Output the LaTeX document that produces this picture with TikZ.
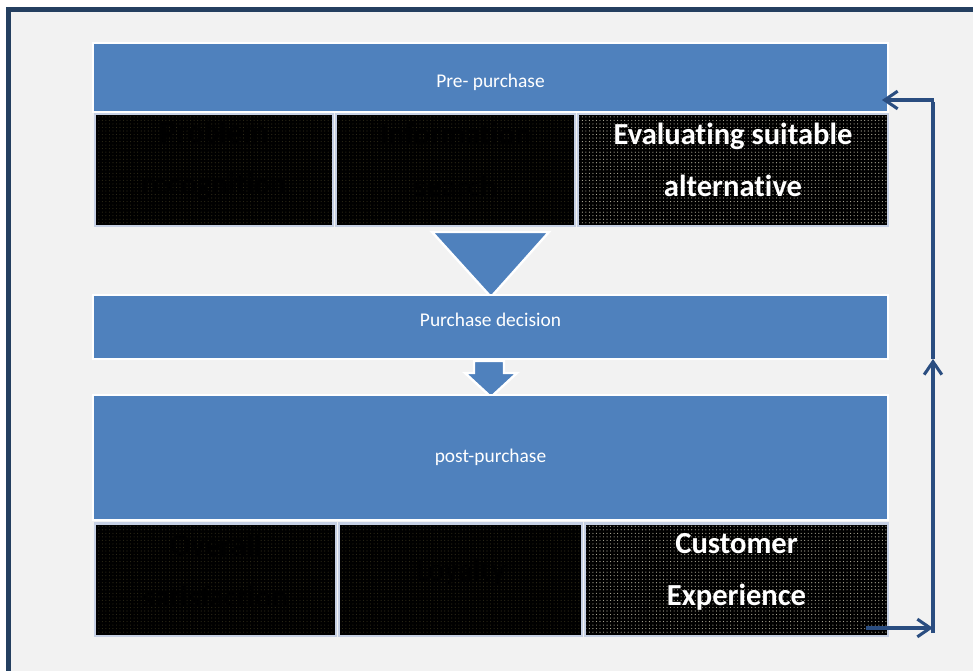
\documentclass[tikz,border=0pt]{standalone}
\usepackage{fontspec}
\setmainfont{Carlito}[Ligatures=NoCommon]
\usetikzlibrary{arrows.meta,patterns}
\definecolor{framenavy}{HTML}{243F60}
\definecolor{stageblue}{HTML}{4F81BD}
\definecolor{loopblue}{HTML}{2A4D80}
\definecolor{pagegray}{HTML}{F2F2F2}
\definecolor{rimgray}{HTML}{C6D0E4}
\definecolor{darkspeck}{HTML}{2E2A18}
\definecolor{lightspeck}{HTML}{B8B4A0}
\tikzset{
  stage/.style={draw=white, line width=2.2pt, fill=stageblue, text=white, minimum width=675.75pt, font=\fontsize{16.5}{20}\selectfont},
  hidden/.style={draw=rimgray, line width=2pt, preaction={fill=black}, pattern=dots, pattern color=darkspeck, minimum height=95.5pt},
  shown/.style={hidden, pattern color=lightspeck},
  hiddentext/.style={text=black, align=center, font=\bfseries\fontsize{26}{44}\selectfont},
  showntext/.style={hiddentext, text=white},
  blockarrow/.style={fill=stageblue, draw=white, line width=2pt, line join=miter},
  loop/.style={draw=loopblue, line width=2.6pt}
}
\begin{document}
\begin{tikzpicture}[x=0.85pt, y=-0.85pt, >={Straight Barb[length=11pt, width=15pt]}]
		\useasboundingbox[fill=white] (0,0) rectangle (973,671);
		\draw[framenavy, line width=4.3pt, fill=pagegray] (8.5,9.5) rectangle (990,690);

		\node[stage, minimum height=58.65pt, text height=20pt, text depth=3.5pt] (pre) at (490.5,77.5) {Pre- purchase};
		\node[hidden, minimum width=202.3pt] (problem) at (214,170) {};
		\node[hidden, minimum width=203.15pt] (info) at (455.5,170) {};
		\node[shown, minimum width=263.5pt] (evaluate) at (733,170) {};
		\node[hiddentext] at (214,160) {Problem\\recognition};
		\node[hiddentext] at (455.5,160) {Information\\search};
		\node[showntext] at (733,160) {Evaluating suitable\\alternative};

		\draw[blockarrow] (432,232) -- (549,232) -- (491,297) -- cycle;

		\node[stage, minimum height=54.4pt, text height=11.5pt, text depth=12pt] (decision) at (490.5,327) {Purchase decision};

		\draw[blockarrow] (474,361) -- (504,361) -- (504,373) -- (517,373) -- (491,397) -- (465,373) -- (474,373) -- cycle;

		\node[stage, minimum height=106.25pt] (post) at (490.5,457.5) {post-purchase};
		\node[hidden, minimum width=204.85pt] (satisfaction) at (215.5,579.5) {};
		\node[hidden, minimum width=206.55pt] (loyalty) at (460.5,579.5) {};
		\node[shown, minimum width=257.55pt] (experience) at (736.5,579.5) {};
		\node[hiddentext] at (215.5,571) {Overall\\satisfaction};
		\node[hiddentext] at (460.5,572) {Loyalty};
		\node[showntext] at (736.5,572) {Customer\\Experience};

		\coordinate (loopstart) at (866,628);
		\coordinate (loopbottom) at (933,628);
		\coordinate (loopfoot) at (933,633);
		\coordinate (loopmid) at (933,359);
		\coordinate (looptop) at (933,102);
		\coordinate (loopcorner) at (934,100);
		\coordinate (loopend) at (882,100);
		\draw[loop, ->] (loopstart) -- (loopbottom);
		\draw[loop, ->] (loopfoot) -- (loopmid);
		\draw[loop] (loopmid) -- (looptop);
		\draw[loop, ->] (loopcorner) -- (loopend);
	\end{tikzpicture}
\end{document}
